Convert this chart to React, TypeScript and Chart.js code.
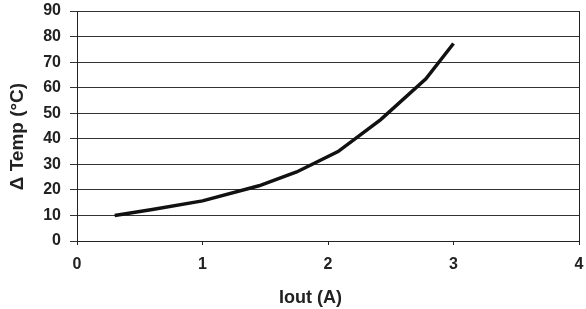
import React, { useEffect, useRef } from "react";
import { Chart, registerables } from "chart.js";

Chart.register(...registerables);

const currentA = [0.3, 0.6, 1.0, 1.45, 1.75, 2.08, 2.42, 2.78, 3.0];
const deltaTemp = [10, 12.3, 15.7, 21.6, 27, 35, 47.5, 63.5, 77.3];
const xTicks = [0, 1, 2, 3, 4];
const yTicks = [0, 10, 20, 30, 40, 50, 60, 70, 80, 90];

const FONT = "'Liberation Sans', Arial, sans-serif";
const NB = "\u00A0";

export default function App() {
  const ref = useRef<HTMLCanvasElement | null>(null);
  useEffect(() => {
    if (!ref.current) return;
    const borderPlugin = {
      id: "rightBorder",
      afterDraw(chart: any) {
        const { ctx, chartArea } = chart;
        ctx.save();
        ctx.strokeStyle = "#222";
        ctx.lineWidth = 1;
        ctx.beginPath();
        ctx.moveTo(Math.round(chartArea.right) + 0.5, chartArea.top);
        ctx.lineTo(Math.round(chartArea.right) + 0.5, chartArea.bottom);
        ctx.stroke();
        ctx.restore();
      },
    };
    const chart = new Chart(ref.current, {
      type: "scatter",
      data: {
        datasets: [
          {
            data: currentA.map((x, i) => ({ x, y: deltaTemp[i] })),
            showLine: true,
            borderColor: "#111",
            borderWidth: 3.5,
            pointRadius: 0,
            tension: 0,
            fill: false,
          },
        ],
      },
      options: {
        animation: false,
        responsive: false,
        maintainAspectRatio: false,
        layout: { padding: { left: 0, right: 7, top: 11, bottom: 0 } },
        plugins: { legend: { display: false }, tooltip: { enabled: false } },
        scales: {
          x: {
            type: "linear",
            min: 0,
            max: 4,
            afterBuildTicks: (s: any) => {
              s.ticks = xTicks.map((v) => ({ value: v }));
            },
            grid: {
              drawOnChartArea: false,
              drawTicks: true,
              tickLength: 4,
              color: "#222",
            },
            border: { color: "#222", width: 1 },
            ticks: {
              color: "#222",
              padding: 10,
              font: { family: FONT, size: 16, weight: "bold" },
            },
            title: {
              display: true,
              text: "Iout (A)" + NB.repeat(7),
              color: "#222",
              font: { family: FONT, size: 18, weight: "bold" },
              padding: { top: 11, bottom: 0 },
            },
            afterFit: (s: any) => {
              s.height = 68;
              s.paddingLeft = 0;
              s.paddingRight = 0;
            },
          },
          y: {
            type: "linear",
            min: 0,
            max: 90,
            afterBuildTicks: (s: any) => {
              s.ticks = yTicks.map((v) => ({ value: v }));
            },
            grid: {
              color: "#333",
              lineWidth: 1,
              drawTicks: true,
              tickLength: 7,
            },
            border: { color: "#222", width: 1 },
            ticks: {
              color: "#222",
              padding: 9,
              font: { family: FONT, size: 16, weight: "bold" },
            },
            title: {
              display: true,
              text: "Δ Temp (°C)" + NB.repeat(4),
              color: "#222",
              font: { family: FONT, size: 19, weight: "bold" },
              padding: { top: 6, bottom: 0 },
            },
            afterFit: (s: any) => {
              s.width = 77;
              s.paddingTop = 0;
              s.paddingBottom = 0;
            },
          },
        },
      },
      plugins: [borderPlugin],
    });
    return () => chart.destroy();
  }, []);
  return (
    <div style={{ position: "fixed", left: 0, top: 0, width: 586, height: 309, background: "#fff" }}>
      <canvas ref={ref} width={586} height={309} style={{ width: 586, height: 309, display: "block" }} />
    </div>
  );
}
